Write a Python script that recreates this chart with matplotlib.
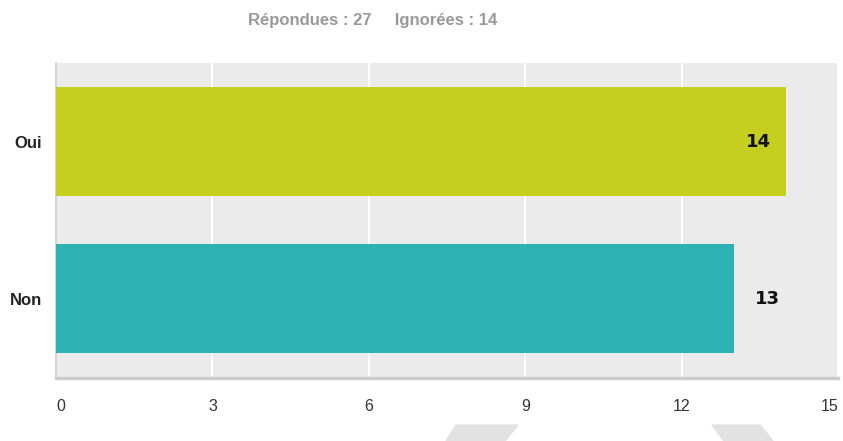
import matplotlib
matplotlib.use("Agg")
import matplotlib.pyplot as plt
from matplotlib.patches import Polygon

categories = ["Non", "Oui"]
values = [13, 14]
bar_colors = ["#2DB1B2", "#C6CF20"]
x_ticks = [0, 3, 6, 9, 12, 15]
answered = 27
skipped = 14

fig = plt.figure(figsize=(8.43, 4.41), dpi=100)
ax = fig.add_axes([56 / 843, 1 - 378 / 441, 782 / 843, 315 / 441])
ax.set_facecolor("#EBEBEB")

ypos = list(range(len(categories)))
ax.barh(ypos, values, height=0.694, color=bar_colors, zorder=3)

ax.set_xlim(0, 15)
ax.set_ylim(-0.506, 1.5)
ax.set_xticks(x_ticks)
ax.set_xticklabels([str(t) for t in x_ticks], family="Liberation Sans", fontsize=11.5, color="#333333")
labels = ax.get_xticklabels()
labels[0].set_horizontalalignment("left")
labels[-1].set_horizontalalignment("right")
ax.set_yticks(ypos)
ax.set_yticklabels(categories, family="Liberation Sans", fontweight="bold", fontsize=12, color="#222222")
ax.tick_params(axis="x", length=0, pad=15)
ax.tick_params(axis="y", length=0, pad=10)
ax.grid(axis="x", color="white", linewidth=1.5, zorder=1)
ax.grid(axis="y", visible=False)

for side in ("top", "right"):
    ax.spines[side].set_visible(False)
ax.spines["left"].set_color("#CCCCCC")
ax.spines["left"].set_linewidth(1.2)
ax.spines["bottom"].set_color("#CCCCCC")
ax.spines["bottom"].set_linewidth(2.5)

# value labels: inside the bar for the longest one, outside otherwise
vmax = max(values)
for y, v in zip(ypos, values):
    if v == vmax:
        ax.annotate(str(v), (v, y), xytext=(-11, 0), textcoords="offset points",
                    ha="right", va="center", fontsize=13, fontweight="bold",
                    color="#111111", family="DejaVu Sans", zorder=4)
    else:
        ax.annotate(str(v), (v, y), xytext=(15, 0), textcoords="offset points",
                    ha="left", va="center", fontsize=13, fontweight="bold",
                    color="#111111", family="DejaVu Sans", zorder=4)

fig.text(373 / 843, 1 - 20 / 441, f"Répondues : {answered}     Ignorées : {skipped}",
         ha="center", va="center", fontsize=12, fontweight="bold",
         color="#999999", family="Liberation Sans")

# light page decoration at the bottom edge
W, H = 843, 441
def px(pts):
    return [(x / W, 1 - y / H) for x, y in pts]
fig.patches.append(Polygon(px([(456, 425), (518, 425), (505, 441), (446, 441)]),
                           closed=True, transform=fig.transFigure, color="#E2E2E2", zorder=0))
fig.patches.append(Polygon(px([(712, 425), (760, 425), (773, 441), (724, 441)]),
                           closed=True, transform=fig.transFigure, color="#E2E2E2", zorder=0))

fig.savefig("out.png", dpi=100)
